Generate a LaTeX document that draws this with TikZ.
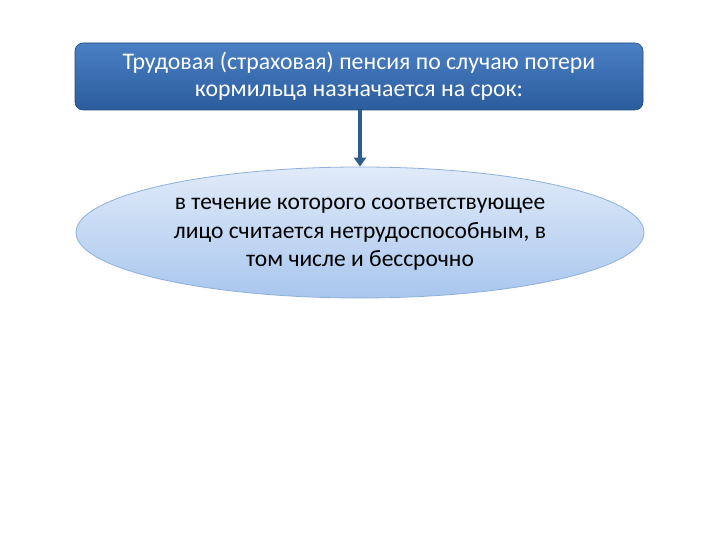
\documentclass[tikz,border=0pt]{standalone}
\usepackage{fontspec}
\setmainfont{Carlito}
\usetikzlibrary{shapes.geometric,arrows.meta}
\definecolor{boxtop}{HTML}{4A80C4}
\definecolor{boxbot}{HTML}{2B5C9C}
\definecolor{elltop}{HTML}{E0EBF9}
\definecolor{ellbot}{HTML}{A9C6EE}
\definecolor{ellline}{HTML}{8FB0DA}
\definecolor{arrowcol}{HTML}{2F5E8E}
\tikzset{
  topbox/.style={rectangle, rounded corners=8pt, top color=boxtop, bottom color=boxbot,
    draw=boxbot!80!black, line width=0.6pt, minimum width=568pt, minimum height=67pt,
    text=white, align=center, font=\fontsize{23.8}{27}\selectfont, inner sep=0pt},
  ovalbox/.style={ellipse, top color=elltop, bottom color=ellbot, draw=ellline, line width=0.8pt,
    minimum width=568pt, minimum height=131pt, inner sep=0pt, align=center,
    font=\fontsize{23.5}{28.5}\selectfont, text=black},
  link/.style={draw=arrowcol, line width=3.5pt, -{Triangle[length=9pt,width=12pt]}}
}
\begin{document}
\begin{tikzpicture}[x=1pt,y=1pt]
\useasboundingbox[fill=white] (0,0) rectangle (720,540);
\node[topbox] (top) at (359,463.5) {Трудовая (страховая) пенсия по случаю потери\\кормильца назначается на срок:};
\node[ovalbox] (oval) at (360,307.5) {\raisebox{-4pt}{\begin{tabular}{@{}c@{}}в течение которого соответствующее\\лицо считается нетрудоспособным, в\\том числе и бессрочно\end{tabular}}};
\draw[link] (oval.north |- top.south) -- (oval.north);
\end{tikzpicture}
\end{document}
